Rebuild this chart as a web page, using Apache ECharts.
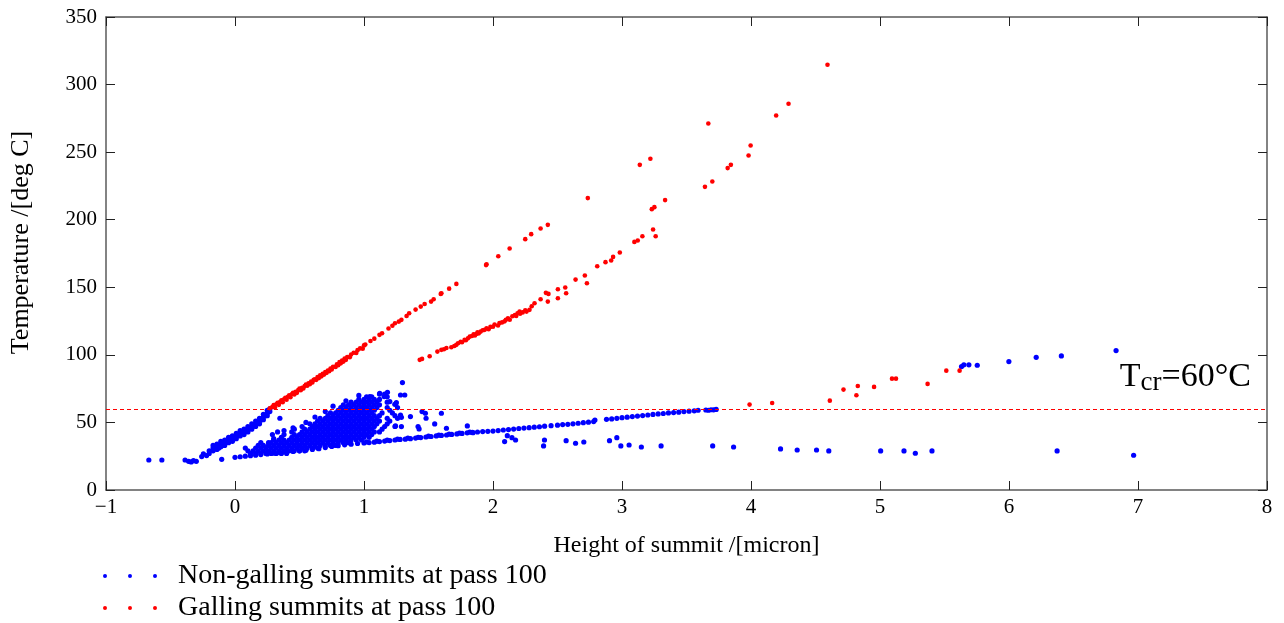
<!DOCTYPE html>
<html>
<head>
<meta charset="utf-8">
<script src="https://cdn.jsdelivr.net/npm/echarts@6/dist/echarts.min.js"></script>
<style>
html,body{margin:0;padding:0;background:#fff;}
#chart{width:1284px;height:623px;}
</style>
</head>
<body>
<div id="chart"></div>
<script>
// ---------- data ----------
const xTicks = [-1, 0, 1, 2, 3, 4, 5, 6, 7, 8];
const yTicks = [0, 50, 100, 150, 200, 250, 300, 350];
const seriesNames = ['Non-galling summits at pass 100', 'Galling summits at pass 100'];

// blue: far-left isolated summits
const blueLeft = [[-0.668,22.2],[-0.567,22.2],[-0.387,22.2],[-0.36,21.2],[-0.34,20.8],[-0.322,21.7],[-0.30,21.2],[-0.258,24.7],[-0.245,26.7],[-0.22,25.5],[-0.103,22.7],[-0.167,30.1],[0.348,53.1]];

// blue: steep band rising to the critical temperature
const blueBand = [
 [-0.20,27],[-0.20,29],[-0.17,29],[-0.17,31],[-0.17,33],[-0.14,30],[-0.14,32],[-0.14,34],
 [-0.11,32],[-0.11,34],[-0.11,36],[-0.08,33],[-0.08,35],[-0.08,37],[-0.05,35],[-0.05,37],[-0.05,39],
 [-0.02,36],[-0.02,38],[-0.02,40],[0.01,38],[0.01,40],[0.01,42],[0.04,40],[0.04,42],[0.04,44],
 [0.07,41],[0.07,43],[0.07,45],[0.10,43],[0.10,45],[0.10,47],[0.13,45],[0.13,47],[0.13,49],
 [0.16,47],[0.16,49],[0.16,51],[0.19,49],[0.19,51],[0.19,53],[0.22,52],[0.22,54],[0.22,56],
 [0.25,55],[0.25,57],[0.25,59],[0.27,58],[0.27,60],
 [-0.125,31],[-0.095,33],[-0.065,36],[-0.035,38],[-0.005,39],[0.025,41],[0.055,43],[0.085,44],[0.115,46],[0.145,48],[0.175,50],[0.205,52],[0.235,55]
];

// blue: lower linear branch
const blueLine = [
 [0.00,24.2],[0.04,24.6],[0.08,25.0],[0.12,25.4],[0.16,25.8],[0.20,26.2],[0.25,26.7],[0.30,27.2],[0.35,27.6],[0.40,28.1],
 [0.45,28.5],[0.50,29.0],[0.55,29.4],[0.60,30.0],[0.65,30.6],[0.70,31.4],[0.75,32.2],[0.80,32.8],[0.85,33.4],[0.90,33.9],
 [0.95,34.4],[1.00,34.8],[1.04,35.1],[1.08,35.4],[1.12,35.8],[1.16,36.2],[1.20,36.6],[1.24,37.0],[1.28,37.4],[1.32,37.6],
 [1.36,38.0],[1.40,38.4],[1.44,38.8],[1.48,39.2],[1.52,39.6],[1.56,40.0],[1.60,40.4],[1.64,40.7],[1.68,41.1],[1.72,41.5],
 [1.76,41.9],[1.80,42.3],[1.84,42.6],[1.88,42.9],[1.92,43.2],[1.96,43.4],[2.00,43.6],[2.04,44.0],[2.08,44.4],[2.12,44.7],
 [2.16,45.1],[2.20,45.5],[2.24,45.8],[2.28,46.1],[2.32,46.5],[2.36,46.8],[2.40,47.2],[2.45,47.6],[2.50,48.0],[2.54,48.4],
 [2.58,48.6],[2.62,49.0],[2.66,49.4],[2.70,49.8],[2.74,50.2],[2.78,50.6],[2.79,51.8],[2.88,52.3],[2.92,52.6],[2.96,53.0],
 [3.00,53.5],[3.04,53.9],[3.08,54.3],[3.12,54.7],[3.16,55.1],[3.20,55.5],[3.24,55.9],[3.28,56.3],[3.32,56.6],[3.36,57.0],
 [3.40,57.3],[3.44,57.6],[3.48,58.0],[3.52,58.3],[3.56,58.6],[3.59,59.0],[3.65,59.2],[3.67,59.0],[3.69,59.4],[3.71,59.3],[3.73,59.6],
 [1.02,35.6],[1.10,36.1],[1.18,36.9],[1.26,37.6],[1.34,38.4],[1.42,39.0],[1.50,39.8],[1.58,40.6],[1.66,41.3],[1.74,42.1],[1.82,42.8]
];

// blue: dense cluster of summits between the two branches
const blueCluster = [
 [0.12,27],[0.16,27],[0.20,27],[0.24,27],[0.28,27],[0.32,27],[0.36,27],[0.40,27],
 [0.10,29],[0.14,29],[0.18,29],[0.22,29],[0.26,29],[0.30,29],[0.34,29],[0.38,29],[0.42,29],[0.46,29],[0.50,29],[0.54,29],
 [0.08,31],[0.16,31],[0.20,31],[0.24,31],[0.28,31],[0.32,31],[0.36,31],[0.40,31],[0.44,31],[0.48,31],[0.52,31],[0.56,31],[0.60,31],[0.64,31],
 [0.18,33],[0.22,33],[0.26,33],[0.30,33],[0.34,33],[0.38,33],[0.42,33],[0.46,33],[0.50,33],[0.54,33],[0.58,33],[0.62,33],[0.66,33],[0.70,33],[0.74,33],[0.78,33],
 [0.20,35],[0.28,35],[0.32,35],[0.36,35],[0.40,35],[0.44,35],[0.48,35],[0.52,35],[0.56,35],[0.60,35],[0.64,35],[0.68,35],[0.72,35],[0.76,35],[0.80,35],[0.84,35],[0.88,35],
 [0.30,37],[0.34,37],[0.38,37],[0.42,37],[0.46,37],[0.50,37],[0.54,37],[0.58,37],[0.62,37],[0.66,37],[0.70,37],[0.74,37],[0.78,37],[0.82,37],[0.86,37],[0.90,37],[0.94,37],[0.98,37],
 [0.36,39],[0.44,39],[0.48,39],[0.52,39],[0.56,39],[0.60,39],[0.64,39],[0.68,39],[0.72,39],[0.76,39],[0.80,39],[0.84,39],[0.88,39],[0.92,39],[0.96,39],[1.00,39],[1.04,39],
 [0.38,41],[0.46,41],[0.50,41],[0.54,41],[0.58,41],[0.62,41],[0.66,41],[0.70,41],[0.74,41],[0.78,41],[0.82,41],[0.86,41],[0.90,41],[0.94,41],[0.98,41],[1.02,41],[1.06,41],
 [0.44,43],[0.52,43],[0.56,43],[0.60,43],[0.64,43],[0.68,43],[0.72,43],[0.76,43],[0.80,43],[0.84,43],[0.88,43],[0.92,43],[0.96,43],[1.00,43],[1.04,43],[1.08,43],[1.12,43],
 [0.46,45],[0.54,45],[0.58,45],[0.62,45],[0.66,45],[0.70,45],[0.74,45],[0.78,45],[0.82,45],[0.86,45],[0.90,45],[0.94,45],[0.98,45],[1.02,45],[1.06,45],[1.14,45],
 [0.52,47],[0.60,47],[0.64,47],[0.68,47],[0.72,47],[0.76,47],[0.80,47],[0.84,47],[0.88,47],[0.92,47],[0.96,47],[1.00,47],[1.04,47],[1.08,47],[1.16,47],[1.24,47],
 [0.58,49],[0.62,49],[0.66,49],[0.70,49],[0.74,49],[0.78,49],[0.82,49],[0.86,49],[0.90,49],[0.94,49],[0.98,49],[1.02,49],[1.06,49],[1.10,49],[1.18,49],
 [0.64,51],[0.68,51],[0.72,51],[0.76,51],[0.80,51],[0.84,51],[0.88,51],[0.92,51],[0.96,51],[1.00,51],[1.04,51],[1.08,51],[1.12,51],[1.20,51],
 [0.66,53],[0.70,53],[0.74,53],[0.78,53],[0.82,53],[0.86,53],[0.90,53],[0.94,53],[0.98,53],[1.02,53],[1.06,53],[1.10,53],[1.18,53],[1.26,53],
 [0.72,55],[0.76,55],[0.80,55],[0.84,55],[0.88,55],[0.92,55],[0.96,55],[1.00,55],[1.04,55],[1.08,55],[1.12,55],[1.24,55],
 [0.74,57],[0.78,57],[0.82,57],[0.86,57],[0.90,57],[0.94,57],[0.98,57],[1.02,57],[1.06,57],[1.14,57],[1.22,57],
 [0.80,59],[0.84,59],[0.88,59],[0.92,59],[0.96,59],[1.00,59],[1.04,59],[1.08,59],[1.20,59],
 [0.82,61],[0.86,61],[0.90,61],[0.94,61],[0.98,61],[1.02,61],[1.06,61],[1.10,61],[1.18,61],[1.26,61],
 [0.84,63],[0.88,63],[0.92,63],[0.96,63],[1.00,63],[1.04,63],[1.08,63],[1.12,63],
 [0.90,65],[0.94,65],[0.98,65],[1.02,65],[1.06,65],[1.10,65],[1.18,65],
 [0.96,67],[1.00,67],[1.04,67],[1.08,67],[1.12,67],
 [1.02,69],[1.06,69],[1.18,69],
 [1.12,71],[1.16,71],
 [0.30,38],[0.26,35],[0.38,44],[0.45,46],[0.55,50],[0.62,54],[0.70,58],[0.76,62],[0.86,66],[0.96,70],[0.29,41],[0.33,43]
];

// blue: scattered summits right of the cluster
const blueScatterNear = [[1.298,79.5],[1.283,70.3],[1.316,70.3],[1.182,72.3],[1.122,71.6],[1.156,69.1],[1.045,69.1],[1.244,47.4],[1.29,46.9],[1.419,46.9],[1.427,45.2],[1.36,54.3],[1.45,58.0],[1.476,56.8],[1.481,53.1],[1.548,48.9],[1.60,56.8],[1.639,45.7],[1.801,47.4],[1.845,42.4],[1.29,53.8],[1.283,55.5],[1.251,64.6],[1.239,63.4],[1.20,65.4]];

// blue: low-temperature summits below the line
const blueLow = [[2.09,35.8],[2.111,40.2],[2.147,38.7],[2.175,37.0],[2.399,37.0],[2.392,32.6],[2.567,36.5],[2.64,34.6],[2.704,35.5],[2.903,36.5],[2.96,38.7],[2.991,32.6],[3.055,33.3],[3.15,31.8],[3.303,32.6],[3.703,32.6],[3.865,31.8],[4.229,30.4],[4.358,29.6],[4.508,29.6],[4.603,28.9],[5.005,28.9],[5.186,28.9],[5.274,27.2],[5.403,28.9],[6.373,28.9],[6.966,25.7]];

// blue: high summits on the right
const blueHigh = [[5.632,91.3],[5.65,92.6],[5.689,92.6],[5.754,92.3],[5.999,95.0],[6.211,98.2],[6.406,99.2],[6.83,103.2]];

// red: upper branch
const redUpper = [
 [0.27,60.5],[0.29,61.5],[0.30,62.8],[0.32,63.5],[0.33,64.6],[0.35,65.2],[0.36,66.4],[0.38,67.1],[0.39,68.3],[0.41,69.0],
 [0.42,70.1],[0.44,70.8],[0.45,72.0],[0.47,72.6],[0.49,73.9],[0.50,75.0],[0.52,75.7],[0.54,77.0],[0.55,78.1],[0.57,78.9],
 [0.59,80.3],[0.61,81.5],[0.62,82.0],[0.64,83.6],[0.66,84.8],[0.68,86.0],[0.70,87.3],[0.72,88.4],[0.74,89.8],[0.76,91.2],
 [0.79,93.0],[0.81,94.6],[0.83,95.7],[0.85,97.3],[0.87,98.4],[0.90,100.2],[0.92,101.6],[0.95,103.5],[0.97,104.8],[1.00,107.0],
 [1.01,107.6],[1.05,110.3],[1.08,112.0],[1.12,114.8],[1.14,116.0],[1.19,119.5],[1.22,121.5],[1.24,123.4],[1.27,124.6],[1.29,125.9],
 [1.33,128.7],[1.35,130.8],[1.40,133.5],[1.44,135.7],[1.47,137.6],[1.52,139.4],[1.54,141.2],[1.595,145.1],[1.60,145.6],[1.66,149.0],
 [1.716,152.5],[1.946,166.4],[1.95,167.0],[2.041,173.0],[2.129,178.7],[2.25,185.6],[2.296,189.3],[2.369,193.5],[2.425,196.2],[2.735,216.0],
 [3.138,240.6],[3.22,245.1],[3.669,271.2],[4.593,314.7],
 [0.31,61.1],[0.34,63.0],[0.37,64.9],[0.40,66.8],[0.43,68.7],[0.46,70.7],[0.48,71.9],[0.51,73.9],[0.53,75.1],[0.56,77.1],
 [0.58,78.3],[0.60,79.6],[0.63,81.5],[0.65,82.8],[0.67,84.1],[0.69,85.4],[0.71,86.7],[0.73,87.9],[0.75,89.2],[0.78,91.1],
 [0.80,92.4],[0.82,93.7],[0.84,95.0],[0.86,96.3],[0.89,98.2],[0.94,101.4],[0.99,104.6]
];

// red: lower branch
const redLower = [
 [1.432,96.3],[1.45,97.0],[1.509,99.0],[1.569,102.4],[1.60,103.7],[1.62,104.2],[1.639,105.1],[1.677,105.6],[1.70,106.5],[1.716,107.4],
 [1.729,108.6],[1.749,109.6],[1.78,111.1],[1.806,112.3],[1.82,113.5],[1.837,114.0],[1.85,115.2],[1.871,115.5],[1.88,116.6],[1.904,117.2],
 [1.92,118.2],[1.935,118.5],[1.95,119.6],[1.966,119.0],[1.98,120.7],[2.012,122.5],[2.039,121.7],[2.05,123.5],[2.09,124.8],[2.116,127.1],
 [2.13,126.0],[2.15,128.6],[2.17,129.4],[2.19,130.8],[2.206,132.0],[2.23,131.4],[2.25,133.0],[2.283,133.3],[2.30,136.0],[2.322,138.2],
 [2.369,141.2],[2.41,145.9],[2.425,139.4],[2.43,145.1],[2.503,148.6],[2.503,141.9],[2.56,149.8],[2.567,145.6],[2.64,155.7],[2.712,158.7],
 [2.728,153.0],[2.808,165.6],[2.872,168.6],[2.916,169.8],[2.931,172.5],[2.983,175.7],[3.096,183.6],[3.122,184.6],[3.158,187.8],[3.241,192.8],
 [3.261,187.8],[3.231,207.8],[3.251,209.3],[3.334,214.5],[3.643,224.3],[3.70,228.3],[3.819,238.2],[3.844,240.6],[3.981,247.5],[3.997,254.9],
 [4.195,277.1],[4.291,285.8],
 [1.76,109.3],[1.79,110.8],[1.86,114.3],[1.89,115.9],[2.00,120.8],[2.07,124.0],[2.10,126.0],[2.18,128.8],[2.21,130.4],[2.26,132.0]
];

// red: summits just above the critical temperature on the right
const redRight = [[3.989,63.2],[4.164,64.4],[4.611,66.1],[4.717,74.3],[4.817,70.1],[4.828,77.0],[4.954,76.3],[5.093,82.4],[5.124,82.4],[5.369,78.5],[5.514,88.3],[5.617,88.3]];

const criticalTemp = 60;

// ---------- chart ----------
const blueData = [].concat(blueLeft, blueBand, blueLine, blueCluster, blueScatterNear, blueLow, blueHigh);
const redData = [].concat(redUpper, redLower, redRight);

const serif = 'Liberation Serif';
const minus = v => String(v).replace('-', '\u2212');
const threeDots = 'path://M0,2a2,2 0 1,0 4,0a2,2 0 1,0 -4,0M25,2a2,2 0 1,0 4,0a2,2 0 1,0 -4,0M50,2a2,2 0 1,0 4,0a2,2 0 1,0 -4,0';

const chart = echarts.init(document.getElementById('chart'));
const axisLineStyle = {color: '#5a5a5a', width: 1.5};
const tickStyle = {color: '#222', width: 1};
const legendBase = {
  orient: 'vertical', left: 103, padding: 0,
  itemWidth: 54, itemHeight: 4, icon: threeDots,
  textStyle: {fontFamily: serif, fontSize: 28, color: '#000', padding: [0, 0, 0, 16]},
  selectedMode: false
};

chart.setOption({
  animation: false,
  backgroundColor: '#fff',
  grid: {left: 104, right: 17, top: 17, bottom: 133},
  legend: [
    Object.assign({}, legendBase, {data: [seriesNames[0]], top: 562}),
    Object.assign({}, legendBase, {data: [seriesNames[1]], top: 594})
  ],
  xAxis: [{
    type: 'value', min: -1, max: 8, interval: 1, position: 'bottom',
    name: 'Height of summit /[micron]', nameLocation: 'middle', nameGap: 44,
    nameTextStyle: {fontFamily: serif, fontSize: 24, color: '#000'},
    axisLine: {show: true, onZero: false, lineStyle: axisLineStyle},
    axisTick: {show: true, inside: true, length: 9, lineStyle: tickStyle},
    axisLabel: {fontFamily: serif, fontSize: 21, color: '#000', margin: 7, formatter: minus},
    splitLine: {show: false}
  }, {
    type: 'value', min: -1, max: 8, interval: 1, position: 'top',
    axisLine: {show: true, onZero: false, lineStyle: axisLineStyle},
    axisTick: {show: true, inside: true, length: 9, lineStyle: tickStyle},
    axisLabel: {show: false}, splitLine: {show: false}
  }],
  yAxis: [{
    type: 'value', min: 0, max: 350, interval: 50, position: 'left',
    name: 'Temperature /[deg C]', nameLocation: 'middle', nameGap: 72,
    nameTextStyle: {fontFamily: serif, fontSize: 26, color: '#000', padding: [0, 0, 0, 22]},
    axisLine: {show: true, onZero: false, lineStyle: axisLineStyle},
    axisTick: {show: true, inside: true, length: 9, lineStyle: tickStyle},
    axisLabel: {fontFamily: serif, fontSize: 21, color: '#000', margin: 9},
    splitLine: {show: false}
  }, {
    type: 'value', min: 0, max: 350, interval: 50, position: 'right',
    axisLine: {show: true, onZero: false, lineStyle: axisLineStyle},
    axisTick: {show: true, inside: true, length: 9, lineStyle: tickStyle},
    axisLabel: {show: false}, splitLine: {show: false}
  }],
  series: [{
    name: seriesNames[0], type: 'scatter', data: blueData,
    symbolSize: 5.2, itemStyle: {color: '#0000ff', opacity: 1},
    emphasis: {disabled: true}
  }, {
    name: seriesNames[1], type: 'scatter', data: redData,
    symbolSize: 4.6, itemStyle: {color: '#ff0000', opacity: 1},
    emphasis: {disabled: true},
    markLine: {
      silent: true, symbol: 'none', animation: false,
      lineStyle: {color: '#ff0000', type: [4, 3], width: 1},
      data: [{yAxis: criticalTemp}],
      label: {
        show: true, position: 'insideEndTop', distance: [14, 13],
        backgroundColor: '#fff', padding: [2, 2, 0, 2],
        formatter: '{a|T}{b|cr}{a|=60°C}',
        rich: {
          a: {fontFamily: serif, fontSize: 34, color: '#000'},
          b: {fontFamily: serif, fontSize: 27, color: '#000', padding: [10, 0, 0, 0]}
        }
      }
    }
  }]
});
</script>
</body>
</html>
